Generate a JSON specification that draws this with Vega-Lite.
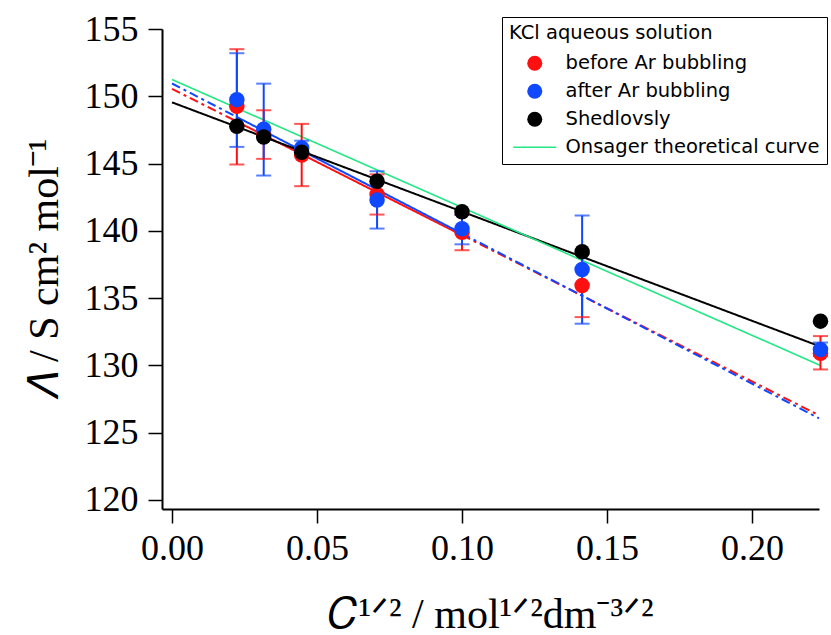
{
  "$schema": "https://vega.github.io/schema/vega-lite/v6.json",
  "width": 657,
  "height": 480,
  "autosize": {"type": "none"},
  "padding": {"left": 162, "top": 29, "right": 12, "bottom": 126},
  "background": "white",
  "config": {
    "view": {"stroke": null},
    "axis": {
      "grid": false,
      "domainColor": "black",
      "domainWidth": 2,
      "tickColor": "black",
      "tickWidth": 1.5,
      "tickSize": 14,
      "labelFont": "Liberation Serif",
      "labelFontSize": 36,
      "labelColor": "black",
      "labelFlush": false,
      "labelOverlap": false,
      "titleFont": "Liberation Serif",
      "titleFontSize": 42,
      "titleFontWeight": "normal",
      "titleColor": "black"
    }
  },
  "datasets": {
    "points": [
      {"series": "before Ar bubbling", "x": 0.02236, "y": 149.25},
      {"series": "before Ar bubbling", "x": 0.03162, "y": 147.15},
      {"series": "before Ar bubbling", "x": 0.04472, "y": 145.63},
      {"series": "before Ar bubbling", "x": 0.07071, "y": 142.7},
      {"series": "before Ar bubbling", "x": 0.1, "y": 139.9},
      {"series": "before Ar bubbling", "x": 0.14142, "y": 135.94},
      {"series": "before Ar bubbling", "x": 0.22361, "y": 130.9},
      {"series": "after Ar bubbling", "x": 0.02236, "y": 149.75},
      {"series": "after Ar bubbling", "x": 0.03162, "y": 147.55},
      {"series": "after Ar bubbling", "x": 0.04472, "y": 146.15},
      {"series": "after Ar bubbling", "x": 0.07071, "y": 142.3},
      {"series": "after Ar bubbling", "x": 0.1, "y": 140.15},
      {"series": "after Ar bubbling", "x": 0.14142, "y": 137.13},
      {"series": "after Ar bubbling", "x": 0.22361, "y": 131.19},
      {"series": "Shedlovsly", "x": 0.02236, "y": 147.77},
      {"series": "Shedlovsly", "x": 0.03162, "y": 146.98},
      {"series": "Shedlovsly", "x": 0.04472, "y": 145.84},
      {"series": "Shedlovsly", "x": 0.07071, "y": 143.69},
      {"series": "Shedlovsly", "x": 0.1, "y": 141.42},
      {"series": "Shedlovsly", "x": 0.14142, "y": 138.44},
      {"series": "Shedlovsly", "x": 0.22361, "y": 133.29}
    ],
    "errors": [
      {"series": "before Ar bubbling", "x": 0.02236, "lo": 144.93, "hi": 153.5},
      {"series": "before Ar bubbling", "x": 0.03162, "lo": 145.35, "hi": 148.96},
      {"series": "before Ar bubbling", "x": 0.04472, "lo": 143.32, "hi": 147.95},
      {"series": "before Ar bubbling", "x": 0.07071, "lo": 141.21, "hi": 144.2},
      {"series": "before Ar bubbling", "x": 0.1, "lo": 138.56, "hi": 141.2},
      {"series": "before Ar bubbling", "x": 0.14142, "lo": 133.59, "hi": 138.29},
      {"series": "before Ar bubbling", "x": 0.22361, "lo": 129.7, "hi": 132.18},
      {"series": "after Ar bubbling", "x": 0.02236, "lo": 146.24, "hi": 153.2},
      {"series": "after Ar bubbling", "x": 0.03162, "lo": 144.11, "hi": 150.94},
      {"series": "after Ar bubbling", "x": 0.04472, "lo": 145.6, "hi": 146.7},
      {"series": "after Ar bubbling", "x": 0.07071, "lo": 140.17, "hi": 144.43},
      {"series": "after Ar bubbling", "x": 0.1, "lo": 139.0, "hi": 141.2},
      {"series": "after Ar bubbling", "x": 0.14142, "lo": 133.1, "hi": 141.14},
      {"series": "after Ar bubbling", "x": 0.22361, "lo": 130.7, "hi": 131.7}
    ],
    "fits": [
      {"series": "before Ar bubbling", "seg": "b1", "part": "extrapolated", "x": 0, "y": 150.55},
      {"series": "before Ar bubbling", "seg": "b1", "part": "extrapolated", "x": 0.02236, "y": 148.12},
      {"series": "before Ar bubbling", "seg": "b2", "part": "fitted", "x": 0.02236, "y": 148.12},
      {"series": "before Ar bubbling", "seg": "b2", "part": "fitted", "x": 0.1, "y": 139.68},
      {"series": "before Ar bubbling", "seg": "b3", "part": "extrapolated", "x": 0.1, "y": 139.68},
      {"series": "before Ar bubbling", "seg": "b3", "part": "extrapolated", "x": 0.2231, "y": 126.3},
      {"series": "after Ar bubbling", "seg": "a1", "part": "extrapolated", "x": 0, "y": 150.95},
      {"series": "after Ar bubbling", "seg": "a1", "part": "extrapolated", "x": 0.02236, "y": 148.46},
      {"series": "after Ar bubbling", "seg": "a2", "part": "fitted", "x": 0.02236, "y": 148.46},
      {"series": "after Ar bubbling", "seg": "a2", "part": "fitted", "x": 0.1, "y": 139.8},
      {"series": "after Ar bubbling", "seg": "a3", "part": "extrapolated", "x": 0.1, "y": 139.8},
      {"series": "after Ar bubbling", "seg": "a3", "part": "extrapolated", "x": 0.2231, "y": 126.07},
      {"series": "Shedlovsly", "seg": "s1", "part": "fitted", "x": 0, "y": 149.55},
      {"series": "Shedlovsly", "seg": "s1", "part": "fitted", "x": 0.2236, "y": 131.4}
    ],
    "onsager": [
      {"series": "Onsager theoretical curve", "x": 0, "y": 151.24},
      {"series": "Onsager theoretical curve", "x": 0.2236, "y": 130.0}
    ]
  },
  "encoding": {
    "x": {
      "field": "x", "type": "quantitative",
      "scale": {"domain": [-0.00345, 0.2231], "nice": false, "zero": false},
      "axis": {
        "values": [0, 0.05, 0.1, 0.15, 0.2],
        "format": ".2f",
        "labelPadding": 8,
        "title": "𝐶¹ᐟ² / mol¹ᐟ²dm⁻³ᐟ²",
        "titlePadding": 28
      }
    },
    "y": {
      "field": "y", "type": "quantitative",
      "scale": {"domain": [119.33, 155], "nice": false, "zero": false},
      "axis": {
        "values": [120, 125, 130, 135, 140, 145, 150, 155],
        "labelPadding": 10,
        "title": "𝛬 / S cm² mol⁻¹",
        "titlePadding": 18
      }
    },
    "color": {
      "field": "series", "type": "nominal",
      "scale": {
        "domain": ["before Ar bubbling", "after Ar bubbling", "Shedlovsly", "Onsager theoretical curve"],
        "range": ["#ff1010", "#1048ff", "#000000", "#22e884"]
      },
      "legend": {
        "orient": "none",
        "legendX": 340,
        "legendY": -12,
        "title": "KCl aqueous solution",
        "titleFont": "DejaVu Sans",
        "titleFontSize": 19.5,
        "titleFontWeight": "normal",
        "titleColor": "black",
        "titleLimit": 400,
        "titlePadding": 10,
        "labelFont": "DejaVu Sans",
        "labelFontSize": 19.5,
        "labelColor": "black",
        "labelLimit": 400,
        "strokeColor": "black",
        "fillColor": "white",
        "padding": 7,
        "symbolOffset": 16,
        "labelOffset": 21,
        "symbolSize": 225,
        "symbolType": "circle",
        "rowPadding": 7,
        "encode": {
          "symbols": {
            "update": {
              "shape": {"signal": "datum.value === 'Onsager theoretical curve' ? 'stroke' : 'circle'"},
              "size": {"signal": "datum.value === 'Onsager theoretical curve' ? 1850 : 225"},
              "fill": {"scale": "color", "field": "value"},
              "opacity": {"value": 1},
              "stroke": {"scale": "color", "field": "value"},
              "strokeWidth": {"signal": "datum.value === 'Onsager theoretical curve' ? 1.6 : 0"},
              "strokeDash": {"value": [1, 0]}
            }
          }
        }
      }
    }
  },
  "layer": [
    {
      "data": {"name": "fits"},
      "mark": {"type": "line", "strokeWidth": 2},
      "encoding": {
        "detail": {"field": "seg"},
        "strokeDash": {
          "field": "part", "type": "nominal", "legend": null,
          "scale": {"domain": ["fitted", "extrapolated"], "range": [[1, 0], [9, 4, 3, 4]]}
        }
      }
    },
    {
      "data": {"name": "onsager"},
      "mark": {"type": "line", "strokeWidth": 1.6},
      "encoding": {}
    },
    {
      "data": {"name": "errors"},
      "mark": {"type": "rule", "strokeWidth": 2},
      "encoding": {
        "y": {"field": "lo", "type": "quantitative"},
        "y2": {"field": "hi"}
      }
    },
    {
      "data": {"name": "errors"},
      "mark": {"type": "tick", "orient": "horizontal", "size": 15, "thickness": 2},
      "encoding": {
        "y": {"field": "lo", "type": "quantitative"}
      }
    },
    {
      "data": {"name": "errors"},
      "mark": {"type": "tick", "orient": "horizontal", "size": 15, "thickness": 2},
      "encoding": {
        "y": {"field": "hi", "type": "quantitative"}
      }
    },
    {
      "data": {"name": "points"},
      "mark": {"type": "point", "filled": true, "opacity": 1, "size": 240, "shape": "circle"},
      "encoding": {}
    }
  ]
}
